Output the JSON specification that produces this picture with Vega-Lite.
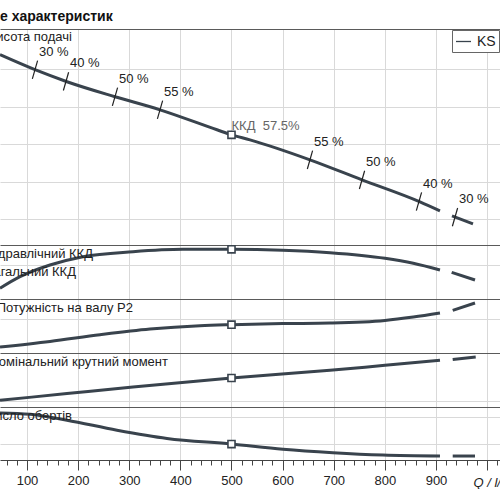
{
  "$schema": "https://vega.github.io/schema/vega-lite/v6.json",
  "background": "white",
  "padding": {"left": -6, "right": 0, "top": 10, "bottom": 0},
  "title": {
    "text": "е характеристик",
    "anchor": "start",
    "fontSize": 14,
    "fontWeight": "bold",
    "color": "#111",
    "offset": 5,
    "dx": 6
  },
  "config": {
    "font": "Liberation Sans",
    "view": {"stroke": null},
    "axis": {"gridColor": "#d9d9d9", "gridWidth": 1}
  },
  "spacing": 0,
  "bounds": "flush",
  "vconcat": [
    {
      "width": 500,
      "height": 216,
      "data": {
        "values": [
          {"Q": 47.2, "v": 31.91, "seg": "a", "pump": "KS"},
          {"Q": 115.6, "v": 29.91, "seg": "a", "pump": "KS"},
          {"Q": 178.2, "v": 28.31, "seg": "a", "pump": "KS"},
          {"Q": 272.1, "v": 26.31, "seg": "a", "pump": "KS"},
          {"Q": 360.2, "v": 24.57, "seg": "a", "pump": "KS"},
          {"Q": 471.6, "v": 21.91, "seg": "a", "pump": "KS"},
          {"Q": 500, "v": 21.24, "seg": "a", "pump": "KS"},
          {"Q": 536.2, "v": 20.57, "seg": "a", "pump": "KS"},
          {"Q": 653.5, "v": 17.91, "seg": "a", "pump": "KS"},
          {"Q": 755.3, "v": 15.24, "seg": "a", "pump": "KS"},
          {"Q": 868.7, "v": 12.31, "seg": "a", "pump": "KS"},
          {"Q": 907.8, "v": 11.11, "seg": "a", "pump": "KS"},
          {"Q": 931.3, "v": 10.44, "seg": "b", "pump": "KS"},
          {"Q": 972.4, "v": 9.37, "seg": "b", "pump": "KS"}
        ]
      },
      "encoding": {
        "x": {
          "field": "Q", "type": "quantitative",
          "scale": {"domain": [47.2, 1025.2], "nice": false, "zero": false},
          "axis": {"values": [100, 200, 300, 400, 500, 600, 700, 800, 900, 1000], "labels": false, "ticks": false, "domain": false, "title": null, "minExtent": 0}
        },
        "y": {
          "field": "v", "type": "quantitative",
          "scale": {"domain": [6.57, 35.33], "nice": false, "zero": false},
          "axis": {
            "values": [10, 15, 20, 25, 30, 35.33],
            "labels": false, "ticks": false, "domain": false, "title": null, "minExtent": 0,
            "gridColor": {"condition": {"test": "datum.value > 35", "value": "#5a5a5a"}, "value": "#d9d9d9"}
          }
        }
      },
      "layer": [
        {
          "mark": {"type": "line", "strokeWidth": 3, "interpolate": "monotone", "strokeCap": "butt"},
          "encoding": {
            "detail": {"field": "seg"},
            "color": {
              "field": "pump", "type": "nominal",
              "scale": {"range": ["#39434d"]},
              "legend": {
                "title": null, "orient": "none", "legendX": 452, "legendY": 1,
                "symbolType": "stroke", "symbolSize": 225, "symbolStrokeWidth": 1.3,
                "labelFontSize": 14, "labelColor": "#222", "labelOffset": 5,
                "padding": 3, "strokeColor": "#666", "fillColor": "white"
              }
            }
          }
        },
        {
          "transform": [{"filter": "datum.Q === 500"}],
          "mark": {"type": "point", "shape": "square", "filled": true, "fill": "white", "stroke": "#39434d", "strokeWidth": 1.6, "size": 50, "opacity": 1}
        },
        {
          "data": {
            "values": [
              {"Q": 115.6, "v": 29.9, "pct": "30 %"},
              {"Q": 176.3, "v": 28.36, "pct": "40 %"},
              {"Q": 272.1, "v": 26.3, "pct": "50 %"},
              {"Q": 360.2, "v": 24.57, "pct": "55 %"},
              {"Q": 653.5, "v": 17.91, "pct": "55 %"},
              {"Q": 755.3, "v": 15.24, "pct": "50 %"},
              {"Q": 866.7, "v": 12.36, "pct": "40 %"},
              {"Q": 937.2, "v": 10.28, "pct": "30 %"}
            ]
          },
          "layer": [
            {"mark": {"type": "point", "shape": "M0,-1L0,1", "size": 361, "angle": 16, "filled": false, "stroke": "#222", "strokeWidth": 1.2, "opacity": 1}},
            {"mark": {"type": "text", "align": "left", "baseline": "middle", "dx": 4, "dy": -18, "fontSize": 13, "color": "#222"}, "encoding": {"text": {"field": "pct"}}}
          ]
        },
        {
          "data": {"values": [{"Q": 500, "v": 21.24, "label": "ККД\u00a0 57.5%"}]},
          "mark": {"type": "text", "align": "left", "baseline": "middle", "dx": 0, "dy": -9, "fontSize": 13, "color": "#666"},
          "encoding": {"text": {"field": "label"}}
        },
        {
          "data": {"values": [{"Q": 188, "v": 34.3, "label": "Висота подачі"}]},
          "mark": {"type": "text", "align": "right", "baseline": "middle", "fontSize": 13, "color": "#222", "clip": true},
          "encoding": {"text": {"field": "label"}}
        }
      ]
    },
    {
      "width": 500,
      "height": 54,
      "data": {
        "values": [
          {"Q": 47.2, "v": 26.7, "seg": "a"},
          {"Q": 86.3, "v": 38.3, "seg": "a"},
          {"Q": 145, "v": 50, "seg": "a"},
          {"Q": 209.5, "v": 58.3, "seg": "a"},
          {"Q": 307.3, "v": 63.3, "seg": "a"},
          {"Q": 405.1, "v": 65.7, "seg": "a"},
          {"Q": 500, "v": 65.7, "seg": "a"},
          {"Q": 600, "v": 64.8, "seg": "a"},
          {"Q": 692.7, "v": 62.3, "seg": "a"},
          {"Q": 800.2, "v": 56.7, "seg": "a"},
          {"Q": 855.6, "v": 51.7, "seg": "a"},
          {"Q": 907.8, "v": 45, "seg": "a"},
          {"Q": 930.7, "v": 42.7, "seg": "b"},
          {"Q": 976.3, "v": 35, "seg": "b"}
        ]
      },
      "encoding": {
        "x": {
          "field": "Q", "type": "quantitative",
          "scale": {"domain": [47.2, 1025.2], "nice": false, "zero": false},
          "axis": {"values": [100, 200, 300, 400, 500, 600, 700, 800, 900, 1000], "labels": false, "ticks": false, "domain": false, "title": null, "minExtent": 0}
        },
        "y": {
          "field": "v", "type": "quantitative",
          "scale": {"domain": [16, 70], "nice": false, "zero": false},
          "axis": {
            "values": [50, 70],
            "labels": false, "ticks": false, "domain": false, "title": null, "minExtent": 0,
            "gridColor": {"condition": {"test": "datum.value >= 70", "value": "#5a5a5a"}, "value": "#d9d9d9"}
          }
        }
      },
      "layer": [
        {"mark": {"type": "line", "strokeWidth": 3, "interpolate": "monotone", "strokeCap": "butt", "color": "#39434d"}, "encoding": {"detail": {"field": "seg"}}},
        {
          "transform": [{"filter": "datum.Q === 500"}],
          "mark": {"type": "point", "shape": "square", "filled": true, "fill": "white", "stroke": "#39434d", "strokeWidth": 1.6, "size": 50, "opacity": 1}
        },
        {
          "data": {"values": [
            {"Q": 229.1, "v": 61, "label": "Гідравлічний ККД"},
            {"Q": 195.8, "v": 43.3, "label": "Загальний ККД"}
          ]},
          "mark": {"type": "text", "align": "right", "baseline": "middle", "fontSize": 13, "color": "#222", "clip": true},
          "encoding": {"text": {"field": "label"}}
        }
      ]
    },
    {
      "width": 500,
      "height": 54,
      "data": {
        "values": [
          {"Q": 47.2, "v": 3.0, "seg": "a"},
          {"Q": 145, "v": 4.4, "seg": "a"},
          {"Q": 242.8, "v": 6.08, "seg": "a"},
          {"Q": 340.6, "v": 7.5, "seg": "a"},
          {"Q": 438.4, "v": 8.33, "seg": "a"},
          {"Q": 500, "v": 8.58, "seg": "a"},
          {"Q": 600, "v": 8.85, "seg": "a"},
          {"Q": 692.7, "v": 9.0, "seg": "a"},
          {"Q": 800.2, "v": 9.65, "seg": "a"},
          {"Q": 855.6, "v": 10.5, "seg": "a"},
          {"Q": 907.8, "v": 11.5, "seg": "a"},
          {"Q": 932.7, "v": 12.15, "seg": "b"},
          {"Q": 976.3, "v": 14.0, "seg": "b"}
        ]
      },
      "encoding": {
        "x": {
          "field": "Q", "type": "quantitative",
          "scale": {"domain": [47.2, 1025.2], "nice": false, "zero": false},
          "axis": {"values": [100, 200, 300, 400, 500, 600, 700, 800, 900, 1000], "labels": false, "ticks": false, "domain": false, "title": null, "minExtent": 0}
        },
        "y": {
          "field": "v", "type": "quantitative",
          "scale": {"domain": [1.5, 15], "nice": false, "zero": false},
          "axis": {
            "values": [10, 15],
            "labels": false, "ticks": false, "domain": false, "title": null, "minExtent": 0,
            "gridColor": {"condition": {"test": "datum.value >= 15", "value": "#5a5a5a"}, "value": "#d9d9d9"}
          }
        }
      },
      "layer": [
        {"mark": {"type": "line", "strokeWidth": 3, "interpolate": "monotone", "strokeCap": "butt", "color": "#39434d"}, "encoding": {"detail": {"field": "seg"}}},
        {
          "transform": [{"filter": "datum.Q === 500"}],
          "mark": {"type": "point", "shape": "square", "filled": true, "fill": "white", "stroke": "#39434d", "strokeWidth": 1.6, "size": 50, "opacity": 1}
        },
        {
          "data": {"values": [{"Q": 307.3, "v": 12.75, "label": "Потужність на валу  P2"}]},
          "mark": {"type": "text", "align": "right", "baseline": "middle", "fontSize": 13, "color": "#222", "clip": true},
          "encoding": {"text": {"field": "label"}}
        }
      ]
    },
    {
      "width": 500,
      "height": 54,
      "data": {
        "values": [
          {"Q": 47.2, "v": 13.4, "seg": "a"},
          {"Q": 178.2, "v": 26.8, "seg": "a"},
          {"Q": 307.3, "v": 40, "seg": "a"},
          {"Q": 500, "v": 58, "seg": "a"},
          {"Q": 692.7, "v": 73.4, "seg": "a"},
          {"Q": 800.2, "v": 83.4, "seg": "a"},
          {"Q": 907.8, "v": 93.4, "seg": "a"},
          {"Q": 932.7, "v": 94.8, "seg": "b"},
          {"Q": 977.7, "v": 100, "seg": "b"}
        ]
      },
      "encoding": {
        "x": {
          "field": "Q", "type": "quantitative",
          "scale": {"domain": [47.2, 1025.2], "nice": false, "zero": false},
          "axis": {"values": [100, 200, 300, 400, 500, 600, 700, 800, 900, 1000], "labels": false, "ticks": false, "domain": false, "title": null, "minExtent": 0}
        },
        "y": {
          "field": "v", "type": "quantitative",
          "scale": {"domain": [0, 108], "nice": false, "zero": false},
          "axis": {
            "values": [12, 108],
            "labels": false, "ticks": false, "domain": false, "title": null, "minExtent": 0,
            "gridColor": {"condition": {"test": "datum.value >= 108", "value": "#5a5a5a"}, "value": "#d9d9d9"}
          }
        }
      },
      "layer": [
        {"mark": {"type": "line", "strokeWidth": 3, "interpolate": "monotone", "strokeCap": "butt", "color": "#39434d"}, "encoding": {"detail": {"field": "seg"}}},
        {
          "transform": [{"filter": "datum.Q === 500"}],
          "mark": {"type": "point", "shape": "square", "filled": true, "fill": "white", "stroke": "#39434d", "strokeWidth": 1.6, "size": 50, "opacity": 1}
        },
        {
          "data": {"values": [{"Q": 375.8, "v": 90, "label": "Номінальний крутний момент"}]},
          "mark": {"type": "text", "align": "right", "baseline": "middle", "fontSize": 13, "color": "#222", "clip": true},
          "encoding": {"text": {"field": "label"}}
        }
      ]
    },
    {
      "width": 500,
      "height": 53,
      "data": {
        "values": [
          {"Q": 47.2, "v": 2958, "seg": "a"},
          {"Q": 105.9, "v": 2955.6, "seg": "a"},
          {"Q": 178.2, "v": 2944.4, "seg": "a"},
          {"Q": 276, "v": 2925.9, "seg": "a"},
          {"Q": 373.8, "v": 2910.6, "seg": "a"},
          {"Q": 500, "v": 2900, "seg": "a"},
          {"Q": 600.7, "v": 2890.2, "seg": "a"},
          {"Q": 698.5, "v": 2883.9, "seg": "a"},
          {"Q": 796.3, "v": 2879.6, "seg": "a"},
          {"Q": 907.8, "v": 2877.8, "seg": "a"},
          {"Q": 932.7, "v": 2877.8, "seg": "b"},
          {"Q": 976.3, "v": 2877.8, "seg": "b"}
        ]
      },
      "encoding": {
        "x": {
          "field": "Q", "type": "quantitative",
          "scale": {"domain": [47.2, 1025.2], "nice": false, "zero": false},
          "axis": {
            "values": [60, 80, 100, 120, 140, 160, 180, 200, 220, 240, 260, 280, 300, 320, 340, 360, 380, 400, 420, 440, 460, 480, 500, 520, 540, 560, 580, 600, 620, 640, 660, 680, 700, 720, 740, 760, 780, 800, 820, 840, 860, 880, 900, 920, 940, 960, 980, 1000, 1020],
            "format": "d",
            "labelExpr": "datum.value % 100 === 0 && datum.value < 1000 ? datum.label : ''",
            "labelFontSize": 13, "labelColor": "#222", "labelPadding": 4, "labelFlush": false, "labelOverlap": false,
            "tickSize": {"condition": {"test": "datum.value % 100 === 0", "value": 10}, "value": 5},
            "tickColor": "#444", "tickWidth": 1,
            "domainColor": "#444", "domainWidth": 1.2,
            "grid": true,
            "gridOpacity": {"condition": {"test": "datum.value % 100 === 0", "value": 1}, "value": 0},
            "title": "Q / l/s", "titleX": 473, "titleY": 22, "titleAlign": "left", "titleBaseline": "middle",
            "titleFontSize": 13, "titleFontWeight": "normal", "titleFontStyle": "italic", "titleColor": "#222",
            "minExtent": 0
          }
        },
        "y": {
          "field": "v", "type": "quantitative",
          "scale": {"domain": [2870.4, 2969], "nice": false, "zero": false},
          "axis": {
            "values": [2900, 2950, 2969],
            "labels": false, "ticks": false, "domain": false, "title": null, "minExtent": 0,
            "gridColor": {"condition": {"test": "datum.value >= 2969", "value": "#5a5a5a"}, "value": "#d9d9d9"}
          }
        }
      },
      "layer": [
        {"mark": {"type": "line", "strokeWidth": 3, "interpolate": "monotone", "strokeCap": "butt", "color": "#39434d"}, "encoding": {"detail": {"field": "seg"}}},
        {
          "transform": [{"filter": "datum.Q === 500"}],
          "mark": {"type": "point", "shape": "square", "filled": true, "fill": "white", "stroke": "#39434d", "strokeWidth": 1.6, "size": 50, "opacity": 1}
        },
        {
          "data": {"values": [{"Q": 188, "v": 2952.4, "label": "Число обертів"}]},
          "mark": {"type": "text", "align": "right", "baseline": "middle", "fontSize": 13, "color": "#222", "clip": true},
          "encoding": {"text": {"field": "label"}}
        }
      ]
    }
  ]
}
